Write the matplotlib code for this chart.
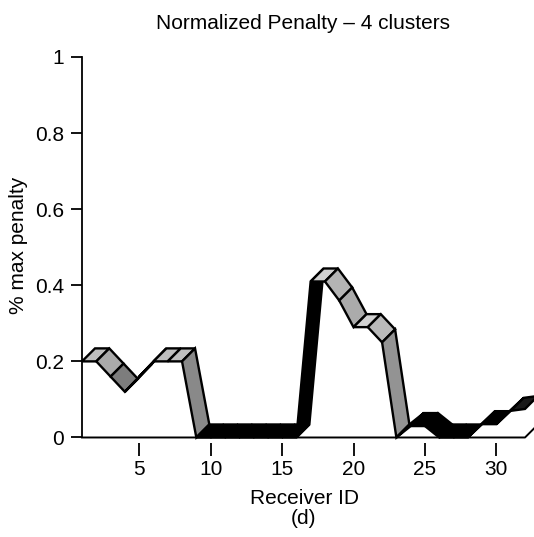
import numpy as np
import matplotlib.pyplot as plt
from matplotlib.patches import Polygon

plt.rcParams['font.family'] = ['Liberation Sans', 'DejaVu Sans']

# data
receiver = np.arange(1, 33)
penalty = [0.2, 0.2, 0.16, 0.12, 0.16, 0.2, 0.2, 0.2,
           0, 0, 0, 0, 0, 0, 0, 0,
           0.41, 0.41, 0.36, 0.29, 0.29, 0.25, 0,
           0.03, 0.03, 0, 0, 0, 0.035, 0.035, 0.07, 0.075]
xticks = [5, 10, 15, 20, 25, 30]
yticks = [0, 0.2, 0.4, 0.6, 0.8, 1]
ytick_labels = ['0', '0.2', '0.4', '0.6', '0.8', '1']

W, H = 534, 537
fig = plt.figure(figsize=(W / 100, H / 100), dpi=100)
ax = fig.add_axes([82 / W, 1 - 443 / H, 443 / W, (443 - 57) / H])
ax.set_xlim(1, 32)
ax.set_ylim(-0.0145, 1)

# depth of the ribbon (screen offset of the back edge), in pixels -> data
depth_px = 13
p = ax.transData.transform([(0, 0), (1, 1)])
sx, sy = p[1] - p[0]
dx, dy = depth_px / sx, depth_px / sy


def shade(z0, x0, y0, x1, y1):
    # gray from the colormap (by height) dimmed for steep faces
    g = np.clip(5 * (z0 - 0.05), 0, 0.82)
    ddx, ddy = (x1 - x0) * sx, (y1 - y0) * sy
    c = ddx / np.hypot(ddx, ddy)
    return str(g * (0.65 + 0.35 * c))


# floor line
ax.plot([1, 32, 32 + dx], [0, 0, dy], color='black', lw=1.4,
        clip_on=False, zorder=1)

# ribbon, segment by segment
for i in range(len(receiver) - 1):
    x0, x1 = receiver[i], receiver[i + 1]
    y0, y1 = penalty[i], penalty[i + 1]
    verts = [(x0, y0), (x1, y1), (x1 + dx, y1 + dy), (x0 + dx, y0 + dy)]
    poly = Polygon(verts, closed=True, facecolor=shade(y0, x0, y0, x1, y1),
                   edgecolor='black', lw=1.7, joinstyle='miter',
                   clip_on=False, zorder=2 + i)
    ax.add_patch(poly)

for s in ['top', 'right', 'bottom']:
    ax.spines[s].set_visible(False)
ax.spines['left'].set_bounds(0, 1)
ax.spines['left'].set_linewidth(1.3)

ax.set_xticks(xticks)
ax.set_yticks(yticks)
ax.set_yticklabels(ytick_labels)
ax.tick_params(axis='x', direction='out', length=9, width=1.3, pad=3,
               labelsize=15)
ax.tick_params(axis='y', direction='out', length=8, width=1.3, pad=5,
               labelsize=15)

ax.set_title('Normalized Penalty \u2013 4 clusters', fontsize=15, pad=20)
fig.text(304 / W, 1 - 498 / H, 'Receiver ID', fontsize=15,
         ha='center', va='center')
fig.text(304 / W, 1 - 518 / H, '(d)', fontsize=15, ha='center', va='center')
fig.text(19 / W, 1 - 245 / H, '% max penalty', fontsize=15, rotation=90,
         ha='center', va='center')

fig.savefig('out.png', dpi=100)
